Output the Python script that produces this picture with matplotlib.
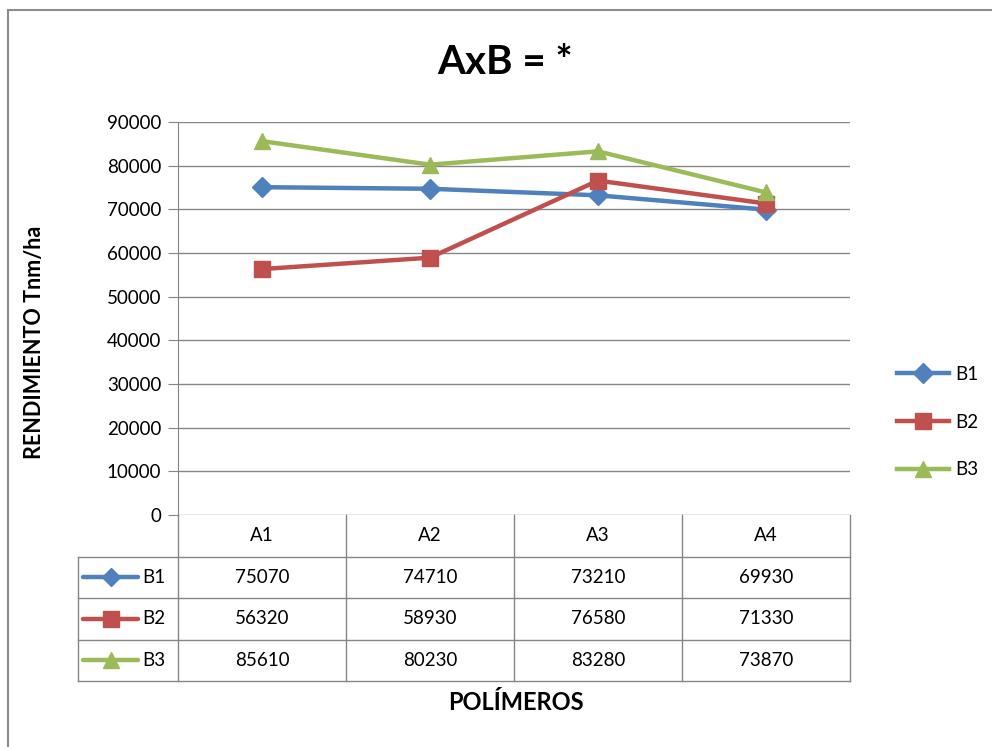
import matplotlib.pyplot as plt
from matplotlib.transforms import blended_transform_factory
from matplotlib.lines import Line2D

plt.rcParams['font.family'] = ['Lato', 'DejaVu Sans']

categories = ['A1', 'A2', 'A3', 'A4']
series_names = ['B1', 'B2', 'B3']
b1 = [75070, 74710, 73210, 69930]
b2 = [56320, 58930, 76580, 71330]
b3 = [85610, 80230, 83280, 73870]
series = [b1, b2, b3]
colors = ['#4F81BD', '#C0504D', '#9BBB59']
markers = ['D', 's', '^']
msizes = [10, 12, 12]

W, H = 992, 747
fig = plt.figure(figsize=(W / 100, H / 100), dpi=100)

# outer chart border (only left and top are visible in the crop)
fig.lines.append(Line2D([8 / W, 8 / W], [0, 1 - 10 / H], transform=fig.transFigure,
                        color='#8c8c8c', lw=1.5))
fig.lines.append(Line2D([8 / W, 1], [1 - 10 / H, 1 - 10 / H], transform=fig.transFigure,
                        color='#8c8c8c', lw=1.5))

# plot area in pixels
x0, x1, ytop, ybot = 178, 850, 122, 515
ax = fig.add_axes([x0 / W, 1 - ybot / H, (x1 - x0) / W, (ybot - ytop) / H])

xs = [i + 0.5 for i in range(len(categories))]
for name, vals, c, m, ms in zip(series_names, series, colors, markers, msizes):
    ax.plot(xs, vals, color=c, linewidth=3.2, marker=m, markersize=ms,
            markeredgecolor=c, label=name, clip_on=False, zorder=3)

ax.set_xlim(0, len(categories))
ax.set_ylim(0, 90000)
ax.set_yticks(range(0, 90001, 10000))
ax.set_yticklabels([str(v) for v in range(0, 90001, 10000)], fontsize=13.5)
ax.set_xticks([])
ax.grid(axis='y', color='#868686', linewidth=1)
ax.set_axisbelow(True)
for s in ['top', 'right', 'bottom']:
    ax.spines[s].set_visible(False)
ax.spines['left'].set_color('#868686')
ax.tick_params(axis='y', length=7, color='#868686', pad=5)

fig.text(505 / W, 1 - 62 / H, 'AxB = *', ha='center', va='center',
         fontsize=29, fontweight='bold')
ax.set_ylabel('RENDIMIENTO Tnm/ha', fontsize=15.5, fontweight='bold')
ax.yaxis.set_label_coords((45 - x0) / (x1 - x0), (ybot - 342) / (ybot - ytop))

# data table below the plot
axh = ybot - ytop
row = 41.5 / axh
trans = blended_transform_factory(ax.transData, ax.transAxes)
left_x = (78 - x0) / (x1 - x0) * len(categories)
nrows = len(series_names)
bottom = -row * (nrows + 1)
gc = '#868686'
for i in range(len(categories) + 1):
    ax.add_line(Line2D([i, i], [0, bottom], transform=trans, color=gc, lw=1, clip_on=False))
ax.add_line(Line2D([left_x, left_x], [-row, bottom], transform=trans, color=gc, lw=1, clip_on=False))
for r in range(1, nrows + 2):
    ax.add_line(Line2D([left_x, len(categories)], [-row * r, -row * r], transform=trans,
                       color=gc, lw=1, clip_on=False))
for i, cat in enumerate(categories):
    ax.text(i + 0.5, -row * 0.5, cat, transform=trans, ha='center', va='center', fontsize=13.5)
for r, (name, vals, c, m, ms) in enumerate(zip(series_names, series, colors, markers, msizes)):
    yc = -row * (r + 1.5)
    hx0 = left_x + 5 / 168
    hx1 = left_x + 60 / 168
    ax.add_line(Line2D([hx0, hx1], [yc, yc], transform=trans, color=c, lw=3.2,
                       solid_capstyle='round', clip_on=False))
    ax.add_line(Line2D([(hx0 + hx1) / 2], [yc], transform=trans, color=c, marker=m,
                       markersize=ms - 1, markeredgecolor=c, clip_on=False))
    ax.text(hx1 + 4 / 168, yc, name, transform=trans, ha='left', va='center', fontsize=13.5)
    for i, v in enumerate(vals):
        ax.text(i + 0.5, yc, str(v), transform=trans, ha='center', va='center', fontsize=13.5)

fig.text(516 / W, 1 - 703 / H, 'POLÍMEROS', ha='center', va='center',
         fontsize=17, fontweight='bold')

# legend on the right
leg = fig.legend(loc='center left', bbox_to_anchor=(880 / W, 1 - 422 / H), frameon=False,
                 fontsize=13.5, handlelength=2.8, handletextpad=0.3, labelspacing=1.65)

fig.savefig('out.png', dpi=100)
